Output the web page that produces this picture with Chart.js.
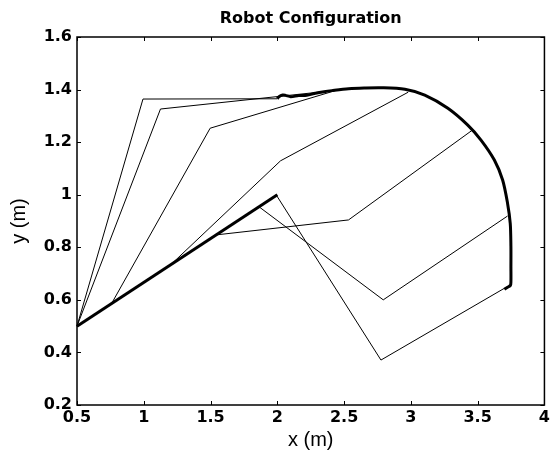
<!DOCTYPE html>
<html>
<head>
<meta charset="utf-8">
<script src="https://cdn.jsdelivr.net/npm/chart.js@4.4.1/dist/chart.umd.min.js"></script>
<style>
  html, body { margin: 0; padding: 0; background: #fff; }
  #wrap { width: 553px; height: 452px; position: relative; }
</style>
</head>
<body>
<div id="wrap"><canvas id="robot-chart"></canvas></div>
<script>
const titleText = 'Robot Configuration';
const xTicks = [0.5, 1, 1.5, 2, 2.5, 3, 3.5, 4];
const yTicks = [0.2, 0.4, 0.6, 0.8, 1, 1.2, 1.4, 1.6];

// end-effector path (thick)
const trajX = [2.0, 2.012, 2.04, 2.061, 2.10, 2.16, 2.22, 2.285, 2.35, 2.408, 2.533, 2.65, 2.781, 2.955, 3.104, 3.277, 3.426, 3.525, 3.625, 3.687, 3.724, 3.744, 3.749, 3.749, 3.749, 3.745, 3.724, 3.70];
const trajY = [1.365, 1.373, 1.379, 1.378, 1.373, 1.377, 1.378, 1.386, 1.392, 1.396, 1.403, 1.406, 1.407, 1.401, 1.379, 1.329, 1.265, 1.208, 1.132, 1.056, 0.967, 0.891, 0.802, 0.726, 0.669, 0.655, 0.648, 0.640];

// prismatic joint path (thick)
const baseX = [0.5, 2.0];
const baseY = [0.5, 1.0];

// arm poses (thin)
const armAX = [0.5, 0.994, 2.0],          armAY = [0.5, 1.364, 1.365];
const armBX = [0.5, 1.125, 2.42],         armBY = [0.5, 1.326, 1.396];
const armCX = [0.5, 0.76, 1.497, 2.48],   armCY = [0.5, 0.587, 1.253, 1.403];
const armDX = [0.5, 1.207, 2.024, 2.98],  armDY = [0.5, 0.736, 1.129, 1.39];
const armEX = [0.5, 1.54, 2.533, 3.456],  armEY = [0.5, 0.847, 0.904, 1.244];
const armFX = [0.5, 1.863, 2.793, 3.724], armFY = [0.5, 0.954, 0.600, 0.919];
const armGX = [0.5, 1.992, 2.776, 3.70],  armGY = [0.5, 0.999, 0.371, 0.644];

function pts(xs, ys) {
  return xs.map((x, i) => ({ x: x, y: ys[i] }));
}

function line(xs, ys, width, tension) {
  return {
    data: pts(xs, ys),
    showLine: true,
    borderColor: '#000',
    borderWidth: width,
    pointRadius: 0,
    tension: tension || 0,
    clip: false
  };
}

const arms = [
  [armAX, armAY], [armBX, armBY], [armCX, armCY], [armDX, armDY],
  [armEX, armEY], [armFX, armFY], [armGX, armGY]
];

const datasets = arms.map(a => line(a[0], a[1], 1));
datasets.push(line(baseX, baseY, 3));
datasets.push(line(trajX, trajY, 3, 0.3));

// box, inward ticks and title over the axes
const frame = {
  id: 'frame',
  afterDraw(chart) {
    const { ctx, chartArea: a, scales } = chart;
    const x = scales.x, y = scales.y;
    ctx.save();
    ctx.strokeStyle = '#000';
    ctx.lineWidth = 1;
    ctx.beginPath();
    xTicks.forEach(v => {
      const px = Math.round(x.getPixelForValue(v)) + 0.5;
      ctx.moveTo(px, a.bottom); ctx.lineTo(px, a.bottom - 4);
      ctx.moveTo(px, a.top); ctx.lineTo(px, a.top + 4);
    });
    yTicks.forEach(v => {
      const py = Math.round(y.getPixelForValue(v)) + 0.5;
      ctx.moveTo(a.left, py); ctx.lineTo(a.left + 4, py);
      ctx.moveTo(a.right, py); ctx.lineTo(a.right - 4, py);
    });
    ctx.stroke();
    ctx.lineWidth = 1.5;
    ctx.strokeRect(a.left, a.top, a.right - a.left, a.bottom - a.top);
    ctx.fillStyle = '#000';
    ctx.font = 'bold 16px "DejaVu Sans"';
    ctx.textAlign = 'center';
    ctx.textBaseline = 'middle';
    ctx.fillText(titleText, (a.left + a.right) / 2, 19);
    ctx.restore();
  }
};

const tickFont = { family: '"DejaVu Sans"', size: 16, weight: 'bold' };
const labelFont = { family: '"Liberation Sans", Arial', size: 20, weight: 'normal' };

new Chart(document.getElementById('robot-chart').getContext('2d'), {
  type: 'scatter',
  data: { datasets: datasets },
  options: {
    responsive: true,
    maintainAspectRatio: false,
    animation: false,
    layout: { padding: { left: 0, right: 6, top: 37, bottom: 0 } },
    plugins: {
      legend: { display: false },
      title: { display: false },
      tooltip: { enabled: false }
    },
    scales: {
      x: {
        type: 'linear',
        min: 0.5,
        max: 4,
        afterBuildTicks: s => { s.ticks = xTicks.map(v => ({ value: v })); },
        afterFit: s => { s.height = 47; },
        grid: { display: false, drawTicks: false },
        border: { display: false },
        ticks: { color: '#000', font: tickFont, padding: 3, maxRotation: 0, callback: v => String(v) },
        title: { display: true, text: 'x (m)', color: '#000', font: labelFont, padding: { top: 2, bottom: 0 } }
      },
      y: {
        type: 'linear',
        min: 0.2,
        max: 1.6,
        afterBuildTicks: s => { s.ticks = yTicks.map(v => ({ value: v })); },
        afterFit: s => { s.width = 77; },
        grid: { display: false, drawTicks: false },
        border: { display: false },
        ticks: { color: '#000', font: tickFont, padding: 5, callback: v => String(v) },
        title: { display: true, text: 'y (m)', color: '#000', font: labelFont, padding: { top: 7, bottom: 0 } }
      }
    }
  },
  plugins: [frame]
});
</script>
</body>
</html>
